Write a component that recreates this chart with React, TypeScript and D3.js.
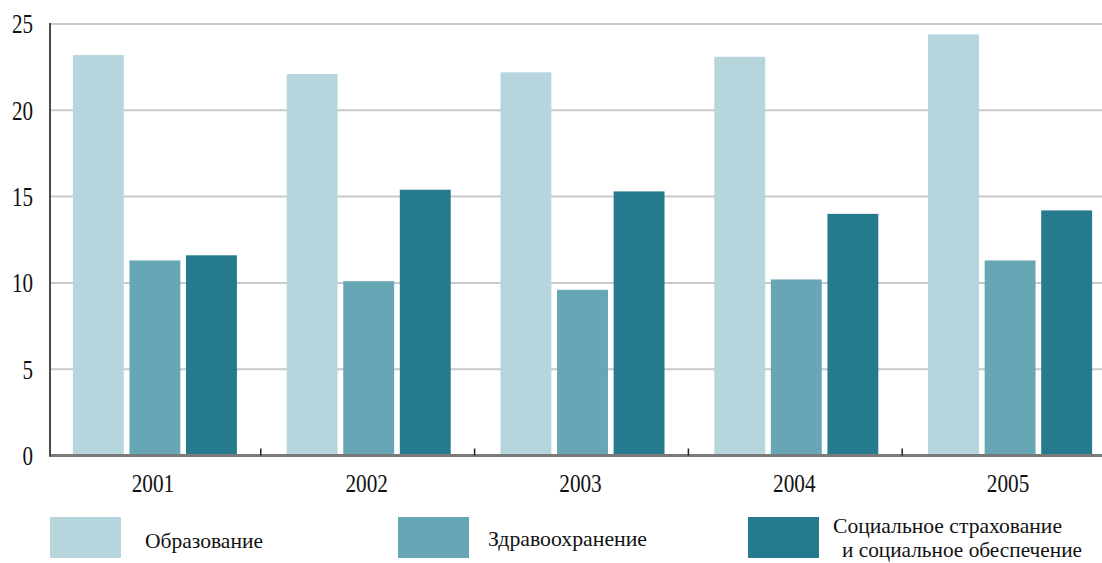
import React from "react";
import * as d3 from "d3";

const years = ["2001", "2002", "2003", "2004", "2005"];
const seriesNames = ["Образование", "Здравоохранение", "Социальное страхование и социальное обеспечение"];
const education = [23.2, 22.1, 22.2, 23.1, 24.4];
const health = [11.3, 10.1, 9.6, 10.2, 11.3];
const social = [11.6, 15.4, 15.3, 14.0, 14.2];
const yTicks = [0, 5, 10, 15, 20, 25];
const colors = ["#b7d5dc", "#66a6b5", "#257b8d"];

const W = 1102;
const H = 563;

export default function App() {
  const seriesValues = [education, health, social];
  const x0 = d3.scaleBand<string>().domain(years).range([47, 1116]).paddingInner(0).paddingOuter(0);
  const x1 = d3
    .scaleBand<number>()
    .domain([0, 1, 2])
    .range([0, x0.bandwidth()])
    .paddingInner(0.1)
    .paddingOuter(0.44);
  const y = d3.scaleLinear().domain([0, 25]).range([455.5, 24]);
  const serif = "'Liberation Serif', 'DejaVu Serif', serif";

  const legendItems = [
    { rx: 50, tx: 145, lines: [{ t: "Образование", dy: 548, w: 118, dx: 0 }] },
    { rx: 398, tx: 488, lines: [{ t: "Здравоохранение", dy: 546, w: 159, dx: 0 }] },
    {
      rx: 748,
      tx: 833,
      lines: [
        { t: "Социальное страхование", dy: 533, w: 229, dx: 0 },
        { t: "и социальное обеспечение", dy: 557, w: 240, dx: 9 },
      ],
    },
  ];

  return (
    <svg
      width={W}
      height={H}
      style={{ position: "absolute", left: 0, top: 0, background: "#fff" }}
      xmlns="http://www.w3.org/2000/svg"
    >
      <rect x={0} y={0} width={W} height={H} fill="#fff" />
      {yTicks
        .filter((t) => t > 0)
        .map((t) => (
          <line key={"g" + t} x1={50} x2={W} y1={y(t)} y2={y(t)} stroke="#c9c9c9" strokeWidth={2} />
        ))}
      {years.map((yr, i) => (
        <g key={yr} transform={`translate(${x0(yr)},0)`}>
          {seriesValues.map((vals, s) => (
            <rect
              key={s}
              x={(x1(s) as number) + 1}
              width={x1.bandwidth()}
              y={y(vals[i])}
              height={y(0) - y(vals[i])}
              fill={colors[s]}
            />
          ))}
        </g>
      ))}
      <line x1={49} x2={W} y1={y(0)} y2={y(0)} stroke="#7a7a7a" strokeWidth={3} />
      {years.slice(1).map((yr) => (
        <line key={"t" + yr} x1={x0(yr)} x2={x0(yr)} y1={y(0) - 7} y2={y(0)} stroke="#222" strokeWidth={1.5} />
      ))}
      <line x1={50} x2={50} y1={y(25) - 1} y2={y(0) + 1} stroke="#4a4a4a" strokeWidth={2} />
      {yTicks.map((t) => (
        <text
          key={"yl" + t}
          transform={`translate(33,${y(t)}) scale(0.78,1)`}
          textAnchor="end"
          dominantBaseline="central"
          style={{ fontFamily: serif, fontSize: 27 }}
          fill="#111"
        >
          {t}
        </text>
      ))}
      {years.map((yr) => (
        <text
          key={"xl" + yr}
          transform={`translate(${(x0(yr) as number) + x0.bandwidth() / 2 - 1},492) scale(0.85,1)`}
          textAnchor="middle"
          style={{ fontFamily: serif, fontSize: 25 }}
          fill="#111"
        >
          {yr}
        </text>
      ))}
      {legendItems.map((it, i) => (
        <g key={"lg" + i}>
          <rect x={it.rx} y={517} width={71} height={41} fill={colors[i]} />
          {it.lines.map((ln, j) => (
            <text
              key={j}
              x={it.tx + ln.dx}
              y={ln.dy}
              style={{ fontFamily: serif, fontSize: 22 }}
              fill="#111"
              textLength={ln.w}
              lengthAdjust="spacingAndGlyphs"
            >
              {ln.t}
            </text>
          ))}
        </g>
      ))}
      <title>{seriesNames.join(", ")}</title>
    </svg>
  );
}
